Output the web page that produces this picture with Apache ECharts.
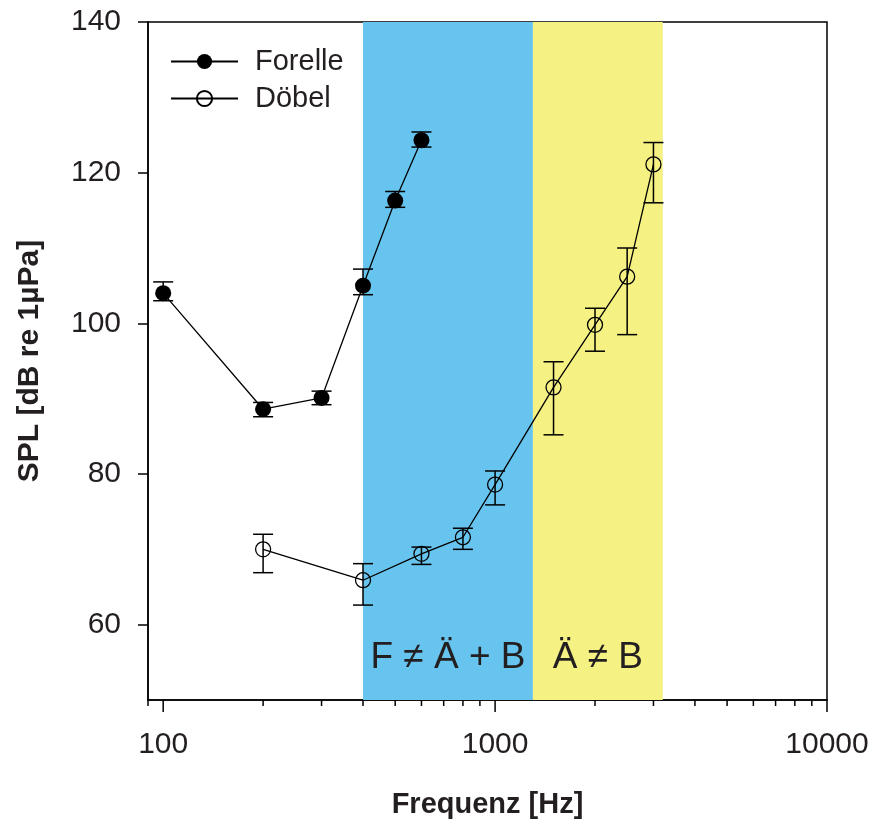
<!DOCTYPE html>
<html><head><meta charset="utf-8">
<script src="https://cdn.jsdelivr.net/npm/echarts@6/dist/echarts.min.js"></script>
<style>html,body{margin:0;padding:0;background:#fff}#c{width:872px;height:825px}</style>
</head><body><div id="c"></div>
<script>
// ---- data ----
const forelleFreq = [100, 200, 300, 400, 500, 600];
const forelleMean = [104.0, 88.6, 90.1, 105.0, 116.3, 124.3];
const forelleLow  = [103.0, 87.6, 89.2, 103.8, 115.4, 123.4];
const forelleHigh = [105.5, 89.5, 91.0, 107.2, 117.5, 125.4];

const doebelFreq = [200, 400, 600, 800, 1000, 1500, 2000, 2500, 3000];
const doebelMean = [70.0, 65.9, 69.4, 71.6, 78.6, 91.5, 99.8, 106.2, 121.1];
const doebelLow  = [66.9, 62.6, 68.0, 70.0, 75.9, 85.2, 96.3, 98.5, 116.0];
const doebelHigh = [72.0, 68.1, 70.3, 72.8, 80.4, 94.9, 102.0, 110.0, 124.0];

const bandEdges = [400, 1300, 3200];
const bandLabels = ['F \u2260 \u00C4 + B', '\u00C4 \u2260 B'];
const seriesNames = ['Forelle', 'D\u00F6bel'];
const xMajorTicks = [100, 1000, 10000];
const xMinorTicks = [90, 200, 300, 400, 500, 600, 700, 800, 900, 2000, 3000, 4000, 5000, 6000, 7000, 8000, 9000];
const xMin = 90, xMax = 10000, yMin = 50, yMax = 140;

// ---- chart ----
const FONT = '"Liberation Sans", Arial, Helvetica, sans-serif';
const TXT = '#231f20';
const chart = echarts.init(document.getElementById('c'), null, {renderer: 'canvas'});

function errData(freq, lo, hi) { return freq.map((f, i) => [f, lo[i], hi[i]]); }

function errRender(params, api) {
  const x = api.value(0);
  const p1 = api.coord([x, api.value(1)]);
  const p2 = api.coord([x, api.value(2)]);
  const hw = 10;
  const st = {stroke: '#000', lineWidth: 1.5};
  return {type: 'group', children: [
    {type: 'line', shape: {x1: p1[0], y1: p1[1], x2: p2[0], y2: p2[1]}, style: st},
    {type: 'line', shape: {x1: p1[0] - hw, y1: p1[1], x2: p1[0] + hw, y2: p1[1]}, style: st},
    {type: 'line', shape: {x1: p2[0] - hw, y1: p2[1], x2: p2[0] + hw, y2: p2[1]}, style: st}
  ]};
}

function tickRender(params, api) {
  const v = api.value(0);
  const p = api.coord([v, yMin]);
  const len = xMajorTicks.indexOf(v) >= 0 ? 12 : 6;
  return {type: 'line', shape: {x1: p[0], y1: p[1], x2: p[0], y2: p[1] + len},
          style: {stroke: '#000', lineWidth: 1.5}};
}

const bandColors = ['#67C4EE', '#F5F183'];
const markAreaData = bandLabels.map((lab, i) => [
  {xAxis: bandEdges[i], name: lab, itemStyle: {color: bandColors[i]}},
  {xAxis: bandEdges[i + 1]}
]);

const option = {
  animation: false,
  backgroundColor: '#fff',
  textStyle: {fontFamily: FONT},
  grid: {left: 148, right: 45, top: 22, bottom: 125, show: true, borderColor: '#000', borderWidth: 1.5, backgroundColor: 'transparent'},
  legend: {
    data: seriesNames,
    orient: 'vertical',
    left: 170, top: 47, padding: 0,
    itemWidth: 67, itemHeight: 19, itemGap: 8,
    selectedMode: false,
    textStyle: {fontFamily: FONT, fontSize: 29, color: TXT, lineHeight: 29, padding: [0, 0, 0, 12]}
  },
  xAxis: {
    type: 'log', logBase: 10, min: xMin, max: xMax,
    name: 'Frequenz [Hz]', nameLocation: 'middle', nameGap: 90,
    nameTextStyle: {fontFamily: FONT, fontSize: 29, fontWeight: 'bold', color: TXT},
    axisLine: {lineStyle: {color: '#000', width: 1.5}},
    axisTick: {show: false},
    splitLine: {show: false},
    axisLabel: {
      fontFamily: FONT, fontSize: 30, color: TXT, margin: 30, showMinLabel: false,
      formatter: v => (xMajorTicks.indexOf(Math.round(v)) >= 0 ? String(Math.round(v)) : '')
    }
  },
  yAxis: {
    type: 'value', min: yMin, max: yMax,
    name: 'SPL [dB re 1\u00B5Pa]', nameLocation: 'middle', nameGap: 103,
    nameTextStyle: {fontFamily: FONT, fontSize: 30, fontWeight: 'bold', color: TXT},
    axisLine: {lineStyle: {color: '#000', width: 1.5}},
    axisTick: {show: true, inside: false, length: 10, lineStyle: {color: '#000', width: 1.5}},
    splitLine: {show: false},
    axisLabel: {fontFamily: FONT, fontSize: 30, color: TXT, margin: 27, showMinLabel: false,
      formatter: v => (v === yMin ? '' : String(v))}
  },
  series: [
    {
      name: seriesNames[0], type: 'line',
      data: forelleFreq.map((f, i) => [f, forelleMean[i]]),
      symbol: 'circle', symbolSize: 16,
      itemStyle: {color: '#000'},
      lineStyle: {color: '#000', width: 1.3},
      emphasis: {disabled: true}, z: 4,
      markArea: {
        silent: true, z: 1,
        label: {show: true, position: 'insideBottom', distance: 24,
                fontFamily: FONT, fontSize: 37, color: TXT},
        data: markAreaData
      }
    },
    {
      name: seriesNames[1], type: 'line',
      data: doebelFreq.map((f, i) => [f, doebelMean[i]]),
      symbol: 'circle', symbolSize: 15,
      itemStyle: {color: 'rgba(0,0,0,0)', borderColor: '#000', borderWidth: 1.3},
      lineStyle: {color: '#000', width: 1.3},
      emphasis: {disabled: true}, z: 4
    },
    {
      type: 'custom', name: 'errF', renderItem: errRender, z: 3, silent: true,
      data: errData(forelleFreq, forelleLow, forelleHigh)
    },
    {
      type: 'custom', name: 'errD', renderItem: errRender, z: 3, silent: true,
      data: errData(doebelFreq, doebelLow, doebelHigh)
    },
    {
      type: 'custom', name: 'xticks', renderItem: tickRender, clip: false, silent: true, z: 5,
      data: xMajorTicks.concat(xMinorTicks).map(v => [v, yMin])
    }
  ]
};
chart.setOption(option);
</script></body></html>
